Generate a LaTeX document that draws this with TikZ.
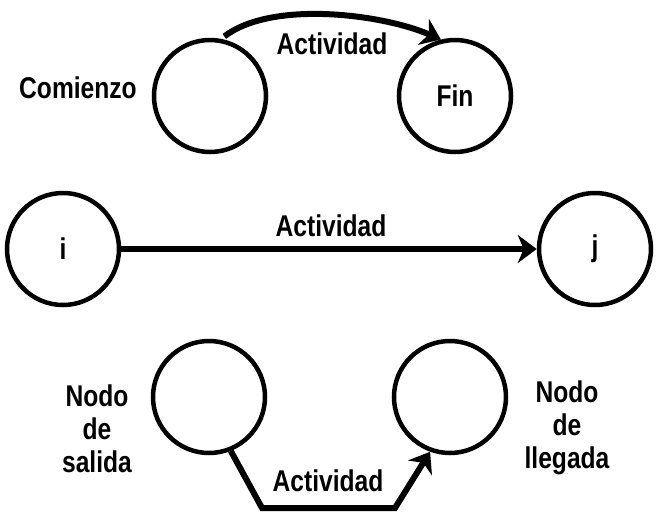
\documentclass[tikz,border=0pt]{standalone}
\usepackage{fontspec}
\setmainfont{Liberation Sans}[FakeStretch=0.82]
\usetikzlibrary{arrows.meta}

\begin{document}
\begin{tikzpicture}[x=1pt,y=-1pt,
  nodo/.style={circle,draw,line width=4.5pt,minimum size=112pt,inner sep=0pt},
  act/.style={line width=6pt,-{Stealth[length=19pt,width=28pt,inset=6pt]}},
  lbl/.style={font=\fontsize{30}{33}\selectfont\bfseries,align=center}]
\useasboundingbox (0,0) rectangle (657,515);
% comienzo y fin
\node[nodo,lbl] (ini) at (210,96) {};
\node[nodo,lbl] (fin) at (455,96) {Fin};
\node[lbl] (com) at (78,88) {Comienzo};
\draw[act,shorten <=4pt] (ini.79) .. controls (272,0) and (382,14) .. (fin.104);
\node[lbl] (a1) at (332,44) {Actividad};
% i -> j
\node[nodo,lbl] (i) at (63,249) {i};
\node[nodo,lbl] (j) at (595,249) {j};
\draw[act] (i.east) -- (j.west);
\node[lbl] (a2) at (331,226) {Actividad};
% salida -> llegada
\node[nodo] (sal) at (209,397) {};
\node[nodo] (lle) at (450,397) {};
\coordinate (b1) at (262,508);
\coordinate (b2) at (395,508);
\draw[act] (sal.-68) -- (b1) -- (b2) -- (lle.-110);
\node[lbl] (a3) at (328,481) {Actividad};
\node[lbl] (ns) at (97,429) {Nodo\\de\\salida};
\node[lbl] (nl) at (567,428) {Nodo\\de\\llegada};
\end{tikzpicture}
\end{document}
